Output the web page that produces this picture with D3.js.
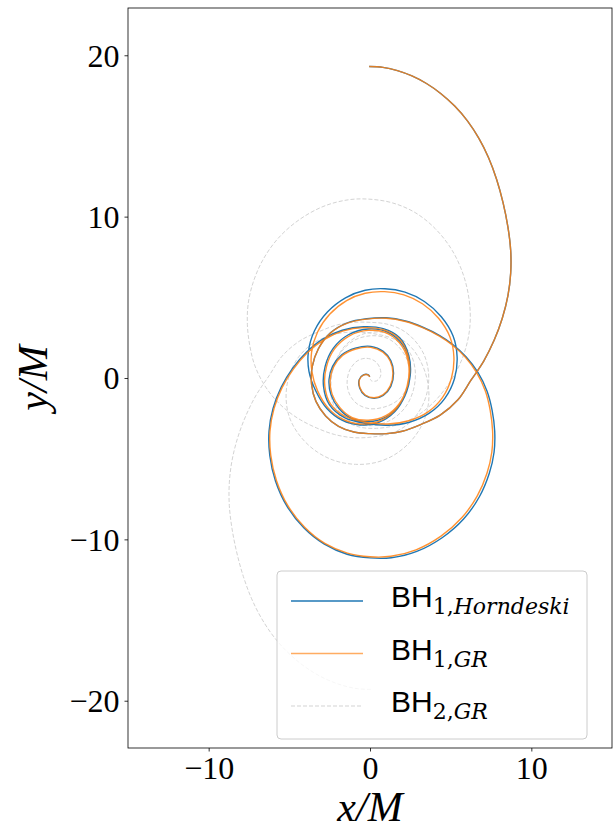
<!DOCTYPE html>
<html>
<head>
<meta charset="utf-8">
<script src="https://cdn.jsdelivr.net/npm/d3@7"></script>
<style>
  body { margin: 0; background: #fff; }
  svg { display: block; }
</style>
</head>
<body>
<div id="chart"></div>
<script>
// orbit tracks, in units of M (x, y), in time order
const bh1HorndeskiPts = [
  // first approach
  [-0.05, 19.30], [0.80, 19.25], [1.70, 19.05], [2.60, 18.72], [3.50, 18.25], [4.40, 17.62],
  [5.25, 16.85], [6.05, 15.92], [6.75, 14.85], [7.35, 13.65], [7.85, 12.30], [8.25, 10.85],
  [8.55, 9.35], [8.72, 7.90], [8.72, 6.50], [8.55, 5.10], [8.20, 3.70], [7.70, 2.35],
  [7.05, 1.05], [6.25, -0.15], [5.45, -1.35], [4.35, -2.30], [3.10, -2.90], [2.00, -3.30],
  [1.00, -3.45],
  // first close passage
  [0.00, -3.45], [-1.00, -3.35], [-1.95, -3.00], [-2.75, -2.35], [-3.35, -1.45], [-3.62, -0.40],
  [-3.58, 0.70], [-3.20, 1.81], [-2.45, 2.80], [-1.40, 3.42], [-0.20, 3.67], [1.00, 3.73],
  [2.20, 3.53], [3.31, 3.13], [4.32, 2.63], [5.13, 2.08],
  // wide loop
  [5.95, 1.32], [6.68, 0.36], [7.25, -0.80], [7.57, -2.00], [7.73, -3.30], [7.69, -4.60],
  [7.39, -5.92], [6.78, -7.36], [5.80, -8.74], [4.47, -9.90], [2.90, -10.75], [1.32, -11.14],
  [0.00, -11.15], [-1.42, -10.92], [-2.83, -10.30], [-4.09, -9.30], [-5.15, -7.94], [-5.86, -6.38],
  [-6.21, -4.82], [-6.26, -3.30], [-6.01, -1.88], [-5.50, -0.56], [-4.80, 0.60], [-3.94, 1.60],
  [-2.93, 2.41], [-1.72, 2.96], [-0.40, 3.18],
  // second close passage
  [0.82, 3.06], [1.84, 2.50], [2.40, 1.42], [2.50, 0.20], [2.20, -1.02], [1.53, -2.09],
  [0.51, -2.76], [-0.62, -2.91], [-1.74, -2.61], [-2.67, -1.89], [-3.35, -0.82],
  // middle loop
  [-3.78, 0.40], [-3.82, 1.62], [-3.44, 2.93], [-2.64, 4.09], [-1.52, 4.97], [-0.30, 5.44],
  [0.92, 5.53], [2.17, 5.32], [3.37, 4.74], [4.42, 3.80], [5.15, 2.60], [5.40, 1.30],
  [5.24, -0.03], [4.64, -1.26], [3.68, -2.18], [2.44, -2.74], [1.10, -2.93], [-0.22, -2.82],
  // final spiral
  [-1.55, -2.47], [-2.52, -1.65], [-2.88, -0.52], [-2.78, 0.72], [-2.27, 1.85], [-1.34, 2.68],
  [-0.10, 3.04], [1.13, 2.83], [2.06, 2.01], [2.47, 0.82], [2.37, -0.52], [1.85, -1.65],
  [0.98, -2.42], [-0.10, -2.70], [-1.13, -2.52], [-1.91, -1.91], [-2.42, -1.03], [-2.54, -0.09],
  [-2.32, 0.72], [-1.75, 1.44], [-0.91, 1.85], [0.05, 1.96], [0.82, 1.65], [1.29, 1.08],
  [1.46, 0.31], [1.29, -0.52], [0.82, -1.08], [0.26, -1.26], [-0.31, -1.08], [-0.64, -0.62],
  [-0.67, -0.10], [-0.41, 0.19], [-0.10, 0.19], [-0.02, 0.07]
];

const bh1GrPts = [
  [-0.05, 19.30], [0.80, 19.25], [1.70, 19.05], [2.60, 18.72], [3.50, 18.25], [4.40, 17.62],
  [5.25, 16.85], [6.05, 15.92], [6.75, 14.85], [7.35, 13.65], [7.85, 12.30], [8.25, 10.85],
  [8.55, 9.35], [8.72, 7.90], [8.72, 6.50], [8.55, 5.10], [8.20, 3.70], [7.70, 2.35],
  [7.05, 1.05], [6.25, -0.15], [5.45, -1.35], [4.35, -2.30], [3.10, -2.90], [2.00, -3.30],
  [1.00, -3.45],
  [0.00, -3.45], [-1.00, -3.35], [-1.95, -3.00], [-2.75, -2.35], [-3.35, -1.45], [-3.62, -0.40],
  [-3.58, 0.70], [-3.20, 1.80], [-2.45, 2.78], [-1.40, 3.40], [-0.20, 3.65], [1.00, 3.70],
  [2.20, 3.50], [3.30, 3.10], [4.30, 2.60], [5.10, 2.05],
  [5.90, 1.30], [6.60, 0.35], [7.15, -0.80], [7.45, -2.00], [7.60, -3.30], [7.55, -4.60],
  [7.25, -5.90], [6.65, -7.30], [5.70, -8.65], [4.40, -9.80], [2.85, -10.65], [1.30, -11.05],
  [0.00, -11.08], [-1.40, -10.85], [-2.80, -10.25], [-4.05, -9.25], [-5.10, -7.90], [-5.80, -6.35],
  [-6.15, -4.80], [-6.20, -3.30], [-5.95, -1.90], [-5.45, -0.60], [-4.75, 0.55], [-3.90, 1.55],
  [-2.90, 2.35], [-1.70, 2.90], [-0.40, 3.12],
  [0.80, 3.00], [1.80, 2.45], [2.35, 1.40], [2.45, 0.20], [2.15, -1.00], [1.50, -2.05],
  [0.50, -2.70], [-0.60, -2.85], [-1.70, -2.55], [-2.60, -1.85], [-3.25, -0.80],
  [-3.60, 0.40], [-3.62, 1.60], [-3.25, 2.85], [-2.50, 3.95], [-1.45, 4.80], [-0.30, 5.25],
  [0.90, 5.35], [2.10, 5.15], [3.25, 4.60], [4.25, 3.70], [4.95, 2.55], [5.20, 1.30],
  [5.05, 0.00], [4.50, -1.20], [3.60, -2.10], [2.40, -2.65], [1.10, -2.85], [-0.20, -2.75],
  [-1.50, -2.40], [-2.45, -1.60], [-2.80, -0.50], [-2.70, 0.70], [-2.20, 1.80], [-1.30, 2.60],
  [-0.10, 2.95], [1.10, 2.75], [2.00, 1.95], [2.40, 0.80], [2.30, -0.50], [1.80, -1.60],
  [0.95, -2.35], [-0.10, -2.62], [-1.10, -2.45], [-1.85, -1.85], [-2.35, -1.00], [-2.47, -0.09],
  [-2.25, 0.70], [-1.70, 1.40], [-0.88, 1.80], [0.05, 1.90], [0.80, 1.60], [1.25, 1.05],
  [1.42, 0.30], [1.25, -0.50], [0.80, -1.05], [0.25, -1.22], [-0.30, -1.05], [-0.62, -0.60],
  [-0.65, -0.10], [-0.40, 0.18], [-0.10, 0.18], [-0.02, 0.07]
];

const bh2GrPts = [
  [0.05, -19.30], [-0.80, -19.25], [-1.70, -19.05], [-2.60, -18.72], [-3.50, -18.25], [-4.40, -17.62],
  [-5.25, -16.85], [-6.05, -15.92], [-6.75, -14.85], [-7.35, -13.65], [-7.85, -12.30], [-8.25, -10.85],
  [-8.55, -9.35], [-8.72, -7.90], [-8.72, -6.50], [-8.55, -5.10], [-8.20, -3.70], [-7.70, -2.35],
  [-7.05, -1.05], [-6.25, 0.15], [-5.45, 1.35], [-4.35, 2.30], [-3.10, 2.90], [-2.00, 3.30],
  [-1.00, 3.45],
  [0.00, 3.45], [1.00, 3.35], [1.95, 3.00], [2.75, 2.35], [3.35, 1.45], [3.62, 0.40],
  [3.58, -0.70], [3.20, -1.80], [2.45, -2.78], [1.40, -3.40], [0.20, -3.65], [-1.00, -3.70],
  [-2.20, -3.50], [-3.30, -3.10], [-4.30, -2.60], [-5.10, -2.05],
  [-5.90, -1.30], [-6.60, -0.35], [-7.15, 0.80], [-7.45, 2.00], [-7.60, 3.30], [-7.55, 4.60],
  [-7.25, 5.90], [-6.65, 7.30], [-5.70, 8.65], [-4.40, 9.80], [-2.85, 10.65], [-1.30, 11.05],
  [0.00, 11.08], [1.40, 10.85], [2.80, 10.25], [4.05, 9.25], [5.10, 7.90], [5.80, 6.35],
  [6.15, 4.80], [6.20, 3.30], [5.95, 1.90], [5.45, 0.60], [4.75, -0.55], [3.90, -1.55],
  [2.90, -2.35], [1.70, -2.90], [0.40, -3.12],
  [-0.80, -3.00], [-1.80, -2.45], [-2.35, -1.40], [-2.45, -0.20], [-2.15, 1.00], [-1.50, 2.05],
  [-0.50, 2.70], [0.60, 2.85], [1.70, 2.55], [2.60, 1.85], [3.25, 0.80],
  [3.60, -0.40], [3.62, -1.60], [3.25, -2.85], [2.50, -3.95], [1.45, -4.80], [0.30, -5.25],
  [-0.90, -5.35], [-2.10, -5.15], [-3.25, -4.60], [-4.25, -3.70], [-4.95, -2.55], [-5.20, -1.30],
  [-5.05, 0.00], [-4.50, 1.20], [-3.60, 2.10], [-2.40, 2.65], [-1.10, 2.85], [0.20, 2.75],
  [1.50, 2.40], [2.45, 1.60], [2.80, 0.50], [2.70, -0.70], [2.20, -1.80], [1.30, -2.60],
  [0.10, -2.95], [-1.10, -2.75], [-2.00, -1.95], [-2.40, -0.80], [-2.30, 0.50], [-1.80, 1.60],
  [-0.95, 2.35], [0.10, 2.62], [1.10, 2.45], [1.85, 1.85], [2.35, 1.00], [2.47, 0.09],
  [2.25, -0.70], [1.70, -1.40], [0.88, -1.80], [-0.05, -1.90], [-0.80, -1.60], [-1.25, -1.05],
  [-1.42, -0.30], [-1.25, 0.50], [-0.80, 1.05], [-0.25, 1.22], [0.30, 1.05], [0.62, 0.60],
  [0.65, 0.10], [0.40, -0.18], [0.10, -0.18], [0.02, -0.07]
];

const xTicks = [-10, 0, 10];
const yTicks = [-20, -10, 0, 10, 20];
const legendLabels = [
  { main: "BH", sub: "1,", subIt: "Horndeski" },
  { main: "BH", sub: "1,", subIt: "GR" },
  { main: "BH", sub: "2,", subIt: "GR" }
];

const width = 613, height = 831;
const box = { left: 128, right: 612, top: 8, bottom: 748 };
const serif = "'Liberation Serif', 'DejaVu Serif', serif";

const svg = d3.select("#chart").append("svg")
  .attr("width", width)
  .attr("height", height)
  .style("background", "#fff");

const x = d3.scaleLinear().domain([-15, 15]).range([box.left, box.right]);
const y = d3.scaleLinear().domain([-22.93, 22.93]).range([box.bottom, box.top]);

svg.append("clipPath").attr("id", "plot-clip")
  .append("rect")
  .attr("x", box.left).attr("y", box.top)
  .attr("width", box.right - box.left).attr("height", box.bottom - box.top);

const line = d3.line()
  .x(d => x(d[0]))
  .y(d => y(d[1]))
  .curve(d3.curveCatmullRom.alpha(0.5));

const plot = svg.append("g").attr("clip-path", "url(#plot-clip)");

plot.append("path")
  .attr("d", line(bh2GrPts))
  .attr("fill", "none")
  .attr("stroke", "#d3d3d3")
  .attr("stroke-width", 1)
  .attr("stroke-dasharray", "4,2");

plot.append("path")
  .attr("d", line(bh1HorndeskiPts))
  .attr("fill", "none")
  .attr("stroke", "#1f77b4")
  .attr("stroke-width", 1.4);

plot.append("path")
  .attr("d", line(bh1GrPts))
  .attr("fill", "none")
  .attr("stroke", "#ff7f0e")
  .attr("stroke-opacity", 0.85)
  .attr("stroke-width", 1.4);

// axes
const fmt = d => d < 0 ? "\u2212" + Math.abs(d) : d;
const xAxis = d3.axisBottom(x).tickValues(xTicks).tickSize(3.5).tickPadding(5).tickFormat(fmt);
const yAxis = d3.axisLeft(y).tickValues(yTicks).tickSize(3.5).tickPadding(5).tickFormat(fmt);

const gx = svg.append("g").attr("transform", `translate(0,${box.bottom})`).call(xAxis);
const gy = svg.append("g").attr("transform", `translate(${box.left},0)`).call(yAxis);
[gx, gy].forEach(g => {
  g.select(".domain").remove();
  g.selectAll(".tick line").attr("stroke", "#000").attr("stroke-width", 0.8);
  g.selectAll(".tick text")
    .attr("fill", "#000")
    .attr("font-family", serif)
    .attr("font-size", 32);
});
gy.selectAll(".tick text").attr("dy", "0.34em");

svg.append("rect")
  .attr("x", box.left).attr("y", box.top)
  .attr("width", box.right - box.left).attr("height", box.bottom - box.top)
  .attr("fill", "none")
  .attr("stroke", "#000")
  .attr("stroke-width", 0.8);

// axis labels
svg.append("text")
  .attr("x", (box.left + box.right) / 2)
  .attr("y", 821)
  .attr("text-anchor", "middle")
  .attr("font-family", serif)
  .attr("font-style", "italic")
  .attr("font-size", 42)
  .text("x/M");

svg.append("text")
  .attr("transform", `translate(47, ${y(0)}) rotate(-90)`)
  .attr("text-anchor", "middle")
  .attr("font-family", serif)
  .attr("font-style", "italic")
  .attr("font-size", 42)
  .text("y/M");

// legend
const legend = svg.append("g");
legend.append("rect")
  .attr("x", 277).attr("y", 571)
  .attr("width", 310).attr("height", 168)
  .attr("rx", 4)
  .attr("fill", "#fff")
  .attr("fill-opacity", 0.8)
  .attr("stroke", "#cccccc")
  .attr("stroke-width", 1);

const legendStyles = [
  { stroke: "#1f77b4", opacity: 1, dash: null, width: 1.4 },
  { stroke: "#ff7f0e", opacity: 0.65, dash: null, width: 1.4 },
  { stroke: "#d3d3d3", opacity: 1, dash: "4,2", width: 1 }
];

legendLabels.forEach((lab, i) => {
  const cy = 601 + i * 52.5;
  const st = legendStyles[i];
  legend.append("line")
    .attr("x1", 291).attr("x2", 363)
    .attr("y1", cy).attr("y2", cy)
    .attr("stroke", st.stroke)
    .attr("stroke-opacity", st.opacity)
    .attr("stroke-width", st.width)
    .attr("stroke-dasharray", st.dash);
  const t = legend.append("text")
    .attr("x", 391)
    .attr("y", cy + 6)
    .attr("fill", "#000");
  t.append("tspan")
    .attr("font-family", "'Liberation Sans', Arial, sans-serif")
    .attr("font-size", 30)
    .text(lab.main);
  t.append("tspan")
    .attr("dy", 7)
    .attr("font-family", "'DejaVu Serif', serif")
    .attr("font-size", 22)
    .text(lab.sub);
  t.append("tspan")
    .attr("font-family", "'DejaVu Serif', serif")
    .attr("font-style", "italic")
    .attr("font-size", 22)
    .text(lab.subIt);
});
</script>
</body>
</html>
